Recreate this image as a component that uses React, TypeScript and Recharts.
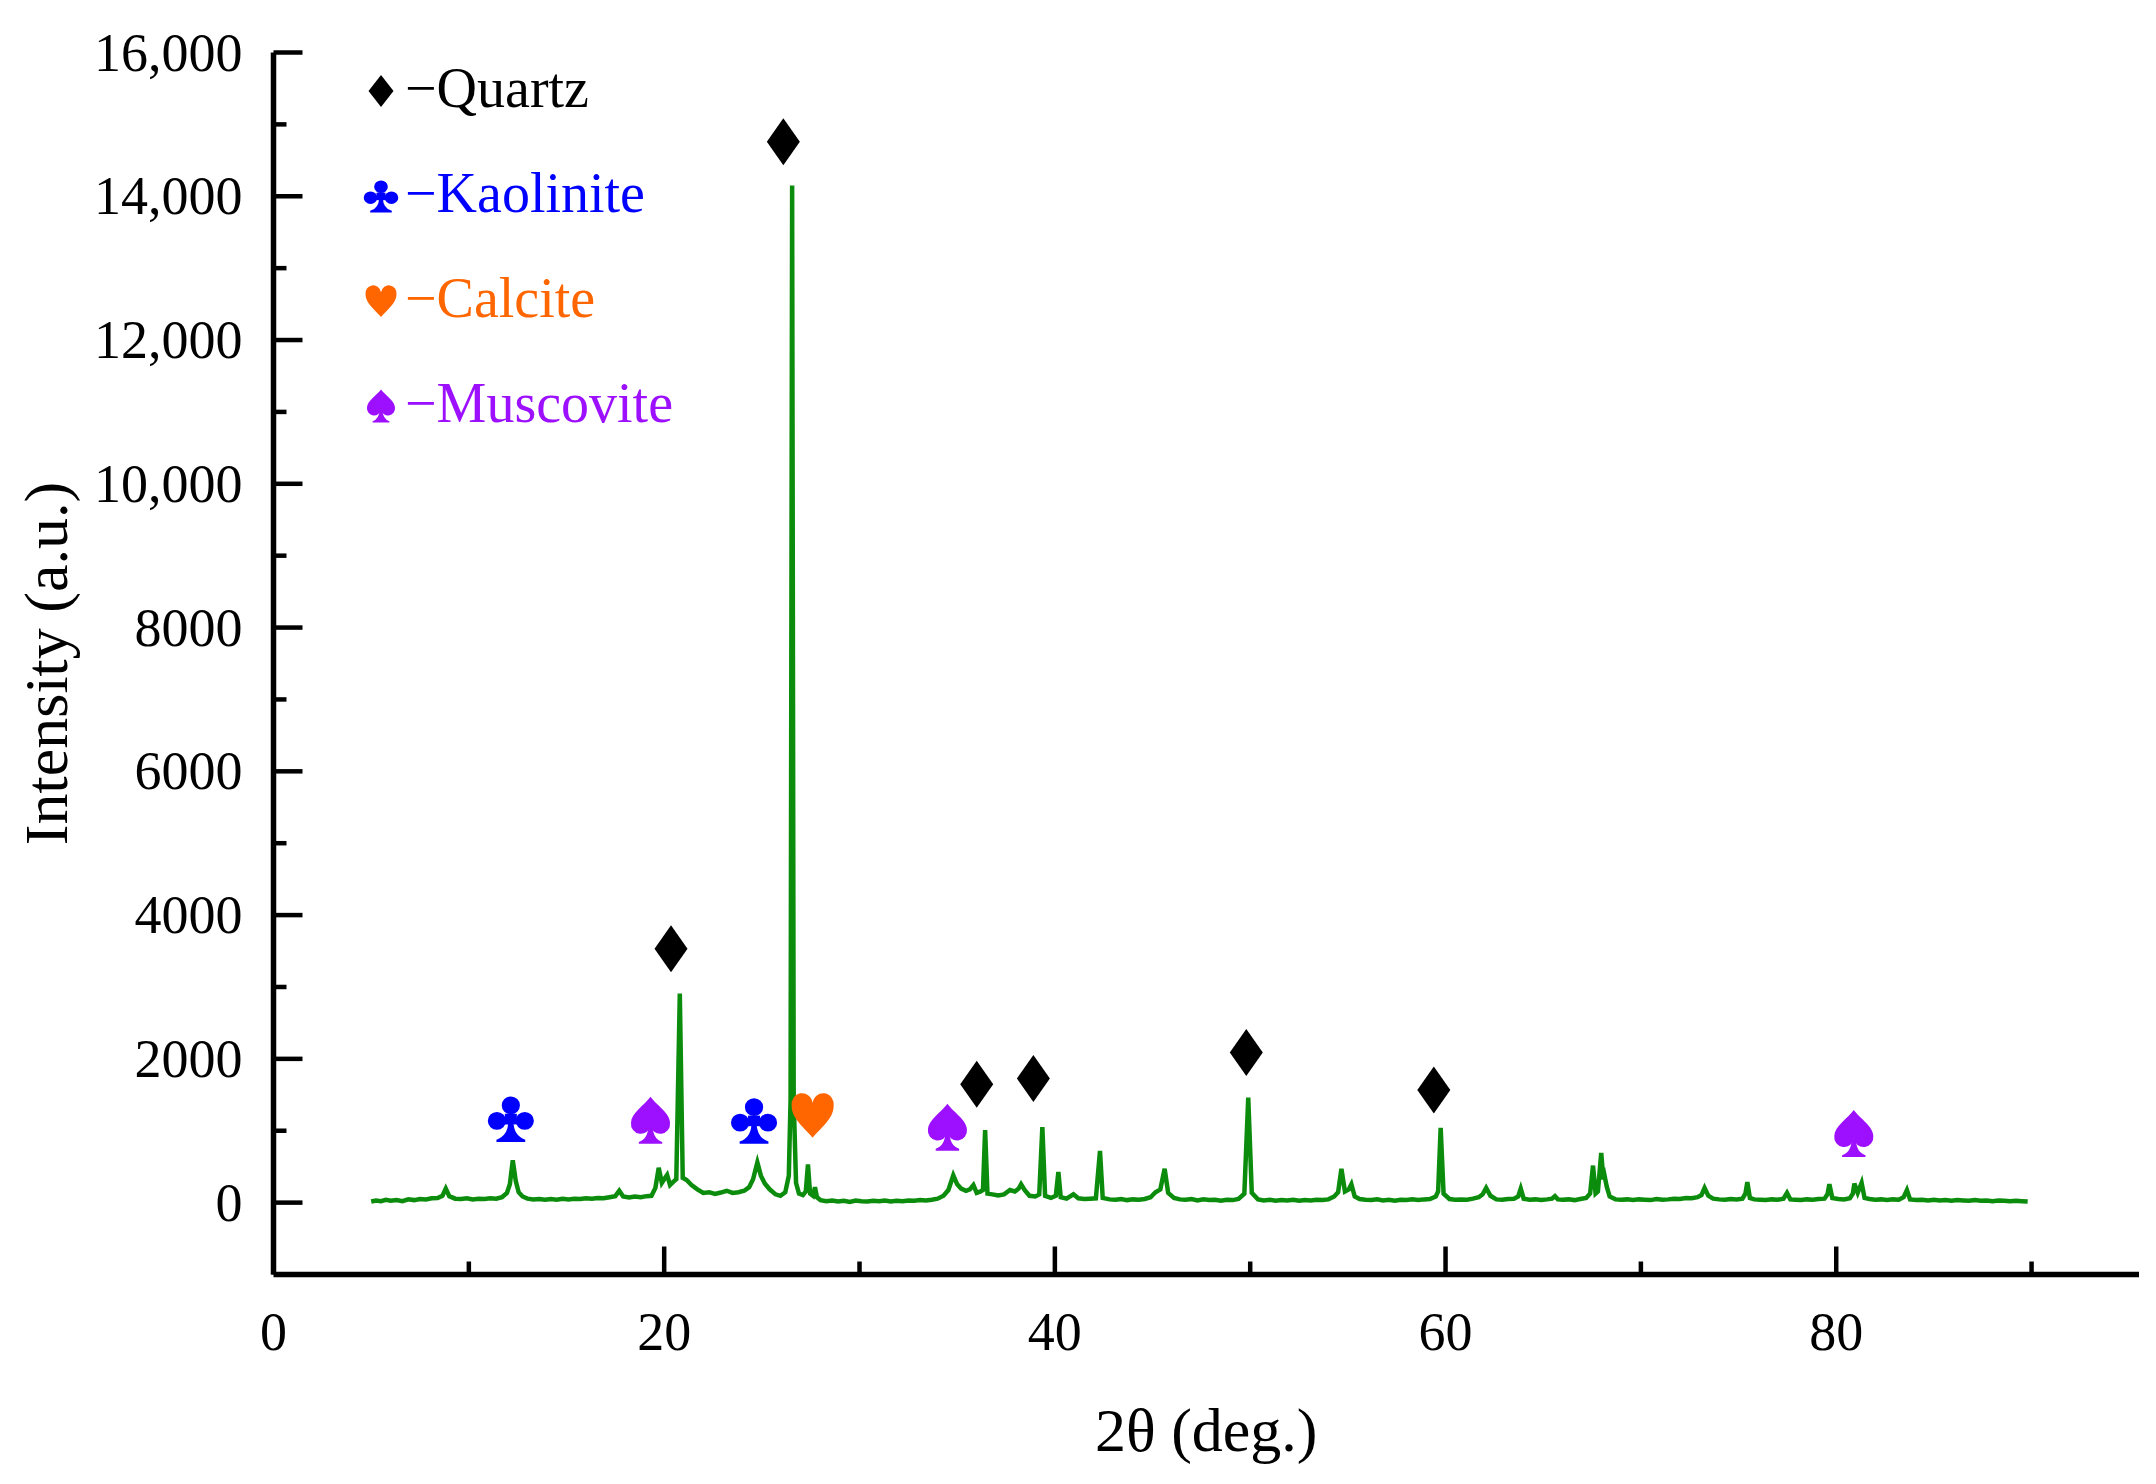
import { ComposedChart, Line, Scatter, XAxis, YAxis, Legend, Label } from 'recharts';

// XRD scan: [2θ, intensity]
const xrdScan: [number, number][] = [
  [5.0, 15], [5.25, 30], [5.5, 20], [5.75, 40], [6.0, 25], [6.3, 35], [6.6, 20], [6.9, 45], [7.2, 35], [7.5, 50],
  [7.8, 45], [8.1, 60], [8.4, 65], [8.65, 95], [8.82, 195], [9.0, 90], [9.3, 55], [9.6, 50], [9.9, 60], [10.2, 45],
  [10.5, 55], [10.8, 50], [11.1, 60], [11.4, 55], [11.7, 75], [11.95, 135], [12.1, 255], [12.25, 590], [12.4, 305], [12.55, 145],
  [12.75, 85], [13.0, 55], [13.3, 45], [13.6, 50], [13.9, 40], [14.2, 50], [14.5, 40], [14.8, 55], [15.1, 45], [15.4, 55],
  [15.7, 50], [16.0, 60], [16.3, 55], [16.6, 65], [16.9, 60], [17.2, 75], [17.5, 90], [17.7, 165], [17.9, 85], [18.2, 70],
  [18.5, 85], [18.8, 75], [19.1, 90], [19.35, 95], [19.55, 205], [19.72, 485], [19.88, 275], [20.0, 325], [20.15, 385], [20.3, 245],
  [20.45, 285], [20.62, 325], [20.8, 2910], [20.95, 345], [21.15, 315], [21.4, 245], [21.7, 185], [22.0, 135], [22.3, 145], [22.6, 120],
  [22.9, 140], [23.2, 165], [23.5, 135], [23.8, 145], [24.1, 165], [24.35, 215], [24.55, 325], [24.77, 560], [24.95, 375], [25.15, 265],
  [25.4, 185], [25.7, 115], [25.95, 95], [26.2, 145], [26.38, 375], [26.47, 1430], [26.55, 14150], [26.63, 1430], [26.75, 275], [26.9, 125],
  [27.1, 105], [27.25, 155], [27.36, 530], [27.47, 125], [27.62, 95], [27.72, 215], [27.82, 75], [28.0, 35], [28.3, 20], [28.6, 30],
  [28.9, 15], [29.2, 25], [29.5, 10], [29.8, 30], [30.1, 20], [30.4, 15], [30.7, 25], [31.0, 20], [31.3, 30], [31.6, 15],
  [31.9, 25], [32.2, 20], [32.5, 30], [32.8, 25], [33.1, 35], [33.4, 30], [33.7, 40], [34.0, 55], [34.3, 95], [34.55, 175],
  [34.8, 380], [35.0, 255], [35.2, 195], [35.45, 165], [35.65, 185], [35.83, 245], [36.0, 135], [36.2, 155], [36.32, 175], [36.43, 1010],
  [36.55, 125], [36.8, 115], [37.1, 100], [37.4, 115], [37.7, 175], [37.95, 155], [38.15, 195], [38.27, 255], [38.45, 175], [38.7, 95],
  [39.0, 85], [39.2, 115], [39.36, 1050], [39.5, 95], [39.8, 65], [40.05, 95], [40.18, 425], [40.3, 75], [40.6, 55], [40.95, 115],
  [41.2, 60], [41.5, 50], [41.8, 55], [42.1, 60], [42.31, 720], [42.45, 65], [42.8, 45], [43.1, 40], [43.4, 50], [43.7, 35],
  [44.0, 45], [44.3, 40], [44.6, 50], [44.9, 75], [45.15, 145], [45.4, 185], [45.62, 470], [45.8, 135], [46.1, 65], [46.4, 45],
  [46.7, 40], [47.0, 50], [47.3, 30], [47.6, 45], [47.9, 35], [48.2, 40], [48.5, 25], [48.8, 40], [49.1, 35], [49.4, 50],
  [49.7, 125], [49.9, 1460], [50.08, 135], [50.4, 45], [50.7, 30], [51.0, 40], [51.3, 25], [51.6, 35], [51.9, 30], [52.2, 40],
  [52.5, 25], [52.8, 35], [53.1, 30], [53.4, 40], [53.7, 35], [54.0, 45], [54.3, 85], [54.5, 145], [54.67, 470], [54.85, 155],
  [55.05, 185], [55.18, 255], [55.35, 85], [55.6, 50], [55.9, 40], [56.2, 35], [56.5, 45], [56.8, 30], [57.1, 40], [57.4, 25],
  [57.7, 40], [58.0, 35], [58.3, 45], [58.6, 35], [58.9, 45], [59.2, 50], [59.5, 85], [59.62, 155], [59.75, 1040], [59.9, 125],
  [60.2, 50], [60.5, 40], [60.8, 45], [61.1, 40], [61.4, 55], [61.7, 75], [61.9, 115], [62.08, 205], [62.3, 95], [62.6, 45],
  [62.9, 40], [63.2, 50], [63.5, 55], [63.72, 85], [63.85, 195], [64.0, 55], [64.3, 40], [64.6, 45], [64.9, 35], [65.2, 45],
  [65.45, 55], [65.6, 90], [65.75, 45], [66.0, 40], [66.3, 45], [66.6, 35], [66.9, 50], [67.2, 65], [67.4, 125], [67.55, 515],
  [67.68, 125], [67.8, 155], [67.97, 690], [68.08, 325], [68.14, 375], [68.25, 225], [68.4, 85], [68.7, 45], [69.0, 40], [69.3, 45],
  [69.6, 35], [69.9, 45], [70.2, 40], [70.5, 35], [70.8, 50], [71.1, 40], [71.4, 45], [71.7, 55], [72.0, 50], [72.3, 65],
  [72.6, 60], [72.9, 75], [73.1, 105], [73.26, 205], [73.45, 95], [73.7, 55], [74.0, 45], [74.3, 40], [74.6, 50], [74.9, 45],
  [75.2, 55], [75.35, 125], [75.45, 285], [75.58, 65], [75.8, 45], [76.1, 40], [76.4, 35], [76.7, 45], [77.0, 40], [77.3, 55],
  [77.48, 135], [77.65, 45], [77.9, 40], [78.2, 35], [78.5, 45], [78.8, 40], [79.1, 50], [79.4, 55], [79.55, 115], [79.65, 255],
  [79.8, 65], [80.1, 50], [80.4, 45], [80.7, 60], [80.85, 125], [80.93, 265], [81.1, 135], [81.3, 275], [81.45, 65], [81.7, 50],
  [82.0, 40], [82.3, 45], [82.6, 35], [82.9, 45], [83.2, 40], [83.45, 75], [83.62, 175], [83.78, 45], [84.1, 35], [84.4, 40],
  [84.7, 30], [85.0, 40], [85.3, 30], [85.6, 35], [85.9, 25], [86.2, 35], [86.5, 30], [86.8, 25], [87.1, 35], [87.4, 25],
  [87.7, 30], [88.0, 20], [88.3, 30], [88.6, 25], [88.9, 20], [89.2, 25], [89.5, 20], [89.8, 15],
];

// phase markers placed above the peaks
const quartzMarks = [
  { x: 20.35, y: 3530 }, { x: 26.1, y: 14760 }, { x: 36.0, y: 1645 },
  { x: 38.9, y: 1725 }, { x: 49.8, y: 2090 }, { x: 59.4, y: 1565 },
];
const kaoliniteMarks = [{ x: 12.15, y: 1170 }, { x: 24.6, y: 1145 }];
const calciteMarks = [{ x: 27.6, y: 1215 }];
const muscoviteMarks = [{ x: 19.3, y: 1145 }, { x: 34.5, y: 1050 }, { x: 80.9, y: 960 }];

const xTicks = [0, 10, 20, 30, 40, 50, 60, 70, 80, 90];
const yTicks = [0, 1000, 2000, 3000, 4000, 5000, 6000, 7000, 8000, 9000, 10000, 11000, 12000, 13000, 14000, 15000, 16000];

const minerals = [
  { name: 'Quartz', color: '#000000', kind: 'diamond' },
  { name: 'Kaolinite', color: '#0000ff', kind: 'club' },
  { name: 'Calcite', color: '#ff6600', kind: 'heart' },
  { name: 'Muscovite', color: '#9d10ff', kind: 'spade' },
];

const FONT = "'Times New Roman', 'Liberation Serif', serif";
const LINE_GREEN = '#0c8c0c';

const SUIT_PATHS: Record<string, string[]> = {
  diamond: ['M0,-1 L1,0 L0,1 L-1,0 Z'],
  heart: ['M0,1 C-0.35,0.6 -1,0.15 -1,-0.4 A0.5,0.5 0 0 1 0,-0.55 A0.5,0.5 0 0 1 1,-0.4 C1,0.15 0.35,0.6 0,1 Z'],
  spade: [
    'M0,-1 C-0.3,-0.65 -1,-0.3 -1,0.1 A0.5,0.42 0 0 0 0,0.2 A0.5,0.42 0 0 0 1,0.1 C1,-0.3 0.3,-0.65 0,-1 Z',
    'M-0.1,0.2 Q-0.12,0.8 -0.6,0.92 L-0.6,1 L0.6,1 L0.6,0.92 Q0.12,0.8 0.1,0.2 Z',
  ],
  club: [
    'M0,-0.94 A0.38,0.38 0 1 1 0,-0.18 A0.38,0.38 0 1 1 0,-0.94 Z',
    'M-0.58,-0.28 A0.38,0.38 0 1 1 -0.58,0.48 A0.38,0.38 0 1 1 -0.58,-0.28 Z',
    'M0.58,-0.28 A0.38,0.38 0 1 1 0.58,0.48 A0.38,0.38 0 1 1 0.58,-0.28 Z',
    'M-0.25,-0.2 L0.25,-0.2 L0.25,0.25 L-0.25,0.25 Z',
    'M-0.1,0.1 Q-0.12,0.75 -0.6,0.9 L-0.6,1 L0.6,1 L0.6,0.9 Q0.12,0.75 0.1,0.1 Z',
  ],
};

const MARK_SIZE: Record<string, [number, number]> = {
  diamond: [33, 47],
  club: [48, 47],
  heart: [42, 45],
  spade: [39, 47],
};

const LEGEND_SIZE: Record<string, [number, number]> = {
  diamond: [25, 32],
  club: [36, 33],
  heart: [31, 32],
  spade: [28, 33],
};

function Suit({ kind, cx, cy, w, h, fill }: { kind: string; cx: number; cy: number; w: number; h: number; fill: string }) {
  return (
    <g transform={`translate(${cx},${cy}) scale(${w / 2},${h / 2})`}>
      {SUIT_PATHS[kind].map((d, i) => (
        <path key={i} d={d} fill={fill} stroke="none" />
      ))}
    </g>
  );
}

const markShape = (kind: string, color: string) => (props: any) => {
  const [w, h] = MARK_SIZE[kind];
  return <Suit kind={kind} cx={props.cx} cy={props.cy} w={w} h={h} fill={color} />;
};

const formatY = (v: number) => (v >= 10000 ? v.toLocaleString('en-US') : String(v));

function XTick(props: any) {
  const { x, y, payload } = props;
  const major = payload.value % 20 === 0;
  return (
    <g>
      <line x1={x} y1={y} x2={x} y2={y - (major ? 28 : 13)} stroke="#000" strokeWidth={4.5} />
      {major && (
        <text x={x} y={y + 75.5} textAnchor="middle" fontSize={54} fontFamily={FONT} fill="#000">
          {payload.value}
        </text>
      )}
    </g>
  );
}

function YTick(props: any) {
  const { x, y, payload } = props;
  const major = payload.value % 2000 === 0;
  return (
    <g>
      <line x1={x} y1={y} x2={x + (major ? 29 : 13)} y2={y} stroke="#000" strokeWidth={4.5} />
      {major && (
        <text x={x - 31} y={y + 18} textAnchor="end" fontSize={54} fontFamily={FONT} fill="#000">
          {formatY(payload.value)}
        </text>
      )}
    </g>
  );
}

function XTitle(props: any) {
  const { x, y, width } = props.viewBox;
  return (
    <text x={x + width / 2} y={y + 176} textAnchor="middle" fontSize={62} fontFamily={FONT} fill="#000">
      2θ (deg.)
    </text>
  );
}

function YTitle(props: any) {
  const { y, height } = props.viewBox;
  const cy = y + height / 2;
  return (
    <text x={67} y={cy} transform={`rotate(-90, 67, ${cy})`} textAnchor="middle" fontSize={62} fontFamily={FONT} fill="#000">
      Intensity (a.u.)
    </text>
  );
}

function PhaseLegend() {
  return (
    <svg width={400} height={420} style={{ display: 'block', overflow: 'visible' }}>
      {minerals.map((m, i) => {
        const [w, h] = LEGEND_SIZE[m.kind];
        const cy = 41 + i * 105;
        return (
          <g key={m.name}>
            <Suit kind={m.kind} cx={31} cy={cy} w={w} h={h} fill={m.color} />
            <text x={55} y={cy + 16} fontSize={56} fontFamily={FONT} fill={m.color}>
              {'\u2212' + m.name}
            </text>
          </g>
        );
      })}
    </svg>
  );
}

const scanData = xrdScan.map(([x, y]) => ({ x, y }));

export default function App() {
  return (
    <div style={{ position: 'absolute', left: 0, top: 0, background: '#fff' }}>
      <ComposedChart width={2156} height={1484} margin={{ top: 52.5, right: 17, left: 0, bottom: 0 }}>
        <XAxis
          type="number"
          dataKey="x"
          domain={[0, 95.5]}
          ticks={xTicks}
          interval={0}
          height={209.5}
          tickSize={0}
          tickMargin={0}
          tickLine={false}
          axisLine={{ stroke: '#000', strokeWidth: 5.5 }}
          tick={<XTick />}
          allowDataOverflow
        >
          <Label content={<XTitle />} />
        </XAxis>
        <YAxis
          type="number"
          domain={[-1000, 16000]}
          ticks={yTicks}
          interval={0}
          width={273.5}
          tickSize={0}
          tickMargin={0}
          tickLine={false}
          axisLine={{ stroke: '#000', strokeWidth: 5.5 }}
          tick={<YTick />}
          allowDataOverflow
        >
          <Label content={<YTitle />} />
        </YAxis>
        <Legend
          layout="vertical"
          align="center"
          verticalAlign="middle"
          content={<PhaseLegend />}
          wrapperStyle={{ left: 350, top: 50, width: 400 }}
        />
        <Line
          data={scanData}
          dataKey="y"
          type="linear"
          stroke={LINE_GREEN}
          strokeWidth={4.5}
          dot={false}
          activeDot={false}
          isAnimationActive={false}
          legendType="none"
        />
        <Scatter data={quartzMarks} dataKey="y" shape={markShape('diamond', '#000000')} isAnimationActive={false} legendType="none" />
        <Scatter data={kaoliniteMarks} dataKey="y" shape={markShape('club', '#0000ff')} isAnimationActive={false} legendType="none" />
        <Scatter data={calciteMarks} dataKey="y" shape={markShape('heart', '#ff6600')} isAnimationActive={false} legendType="none" />
        <Scatter data={muscoviteMarks} dataKey="y" shape={markShape('spade', '#9d10ff')} isAnimationActive={false} legendType="none" />
      </ComposedChart>
    </div>
  );
}
